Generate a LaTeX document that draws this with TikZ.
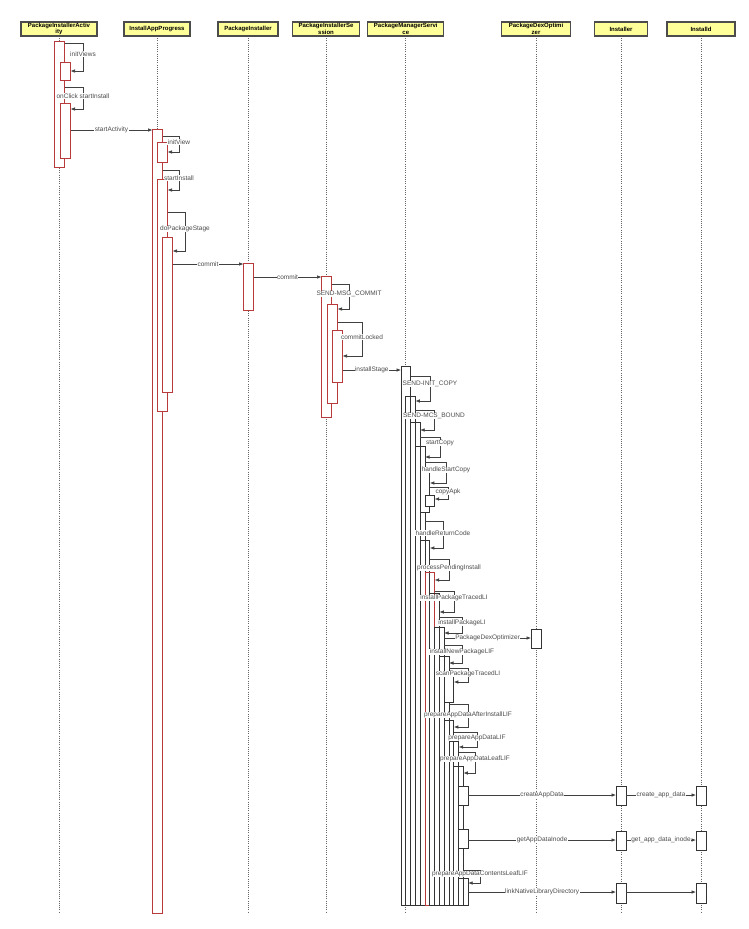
\documentclass[tikz,border=0pt]{standalone}
\usepackage{fontspec}
\setmainfont{Liberation Sans}
\usetikzlibrary{arrows.meta}
\definecolor{headfill}{HTML}{FFFF99}
\definecolor{actred}{HTML}{B83A3A}
\begin{document}
\begin{tikzpicture}[x=1pt,y=-1pt,
  head/.style = {rectangle,draw=black!70,line width=1.1pt,fill=headfill,minimum height=14pt,inner sep=0pt,align=center,font=\bfseries\fontsize{6}{6.3}\selectfont},
  life/.style = {draw=black!60,line width=0.7pt,dash pattern=on 0.8pt off 1.4pt},
  bar/.style  = {rectangle,line width=1pt,fill=white,minimum width=10pt,inner sep=0pt,outer sep=0pt,anchor=north west},
  pbar/.style = {rectangle,line width=0.7pt,minimum width=9.6pt,inner sep=0pt,outer sep=0pt,anchor=north west},
  msg/.style  = {draw=black!75,line width=0.7pt,-{Latex[length=4.5pt,width=3.6pt]}},
  lbl/.style  = {fill=white,inner sep=0.4pt,text=black!70,font=\fontsize{6.5}{7.5}\selectfont}]
\fill[white] (0,0) rectangle (749,929);
\useasboundingbox (0,0) rectangle (749,929);
% lifelines
\foreach \nm/\xx/\ww/\txt in {pia/59/76/PackageInstallerActiv\\ity, iap/157/66/InstallAppProgress,
    pi/248/60/PackageInstaller, pis/326/67/PackageInstallerSe\\ssion, pms/405.8/76/PackageManagerServi\\ce,
    pdo/536/69/PackageDexOptimi\\zer, inst/621/53/Installer, ind/701/68/Installd}
{
  \draw[life] (\xx,36) -- (\xx,913);
  \node[head,minimum width=\ww pt] (h\nm) at (\xx,29) {\txt};
}
% activations
\foreach \nm/\xx/\ytop/\ybot in {pia1/54.5/41/167, pia2/60.5/62/80, pia3/60.5/103/158,
    iap1/152.5/129/913, iap2/157.5/142/162, iap3/157.5/179/411, iap4/162.5/237/392,
    pi1/243.5/263/310, pis1/321.5/276/417, pis2/327.5/304/403, pis3/332.5/330/382}
  \node[bar,draw=actred,minimum height={(\ybot-\ytop)*1pt}] (\nm) at (\xx,\ytop) {};
\foreach \nm/\xx/\ytop/\ybot in {pdo1/531/629/648, inst1/616/786/805, inst2/616/831/850, inst3/616/883/903,
    ind1/696/786/805, ind2/696/831/850, ind3/696/883/903}
  \node[bar,draw=black!80,line width=0.8pt,minimum height={(\ybot-\ytop)*1pt}] (\nm) at (\xx,\ytop) {};
\node[pbar,draw=black!80,fill=white,minimum height=539pt] (pms1) at (401,366) {};
\foreach \nm/\xx/\ytop/\ybot/\col/\fil in {pms2/405.8/396/905/black!80/none, pms3/410.6/422/905/black!80/none,
    pms4/415.4/446/905/black!80/none, pms5/420.2/468/512/black!80/white, pms6/425/495/506/black!80/white,
    pms7/420.2/540/905/black!80/none, pms8/425/572/905/actred/none, pms9/429.8/593/905/black!80/none,
    pms10/434.6/627/905/black!80/none, pms11/439.4/656/905/black!80/none, pms12/444.2/676/702/black!80/white,
    pms13/444.2/720/905/black!80/none, pms14/449/741/905/black!80/none, pms15/453.8/766/905/black!80/none,
    pms16/458.6/786/805/black!80/white, pms17/458.6/829/848/black!80/white, pms18/458.6/878/905/black!80/none}
  \node[pbar,draw=\col,fill=\fil,minimum height={(\ybot-\ytop)*1pt}] (\nm) at (\xx,\ytop) {};
% calls between lifelines
\foreach \src/\dst/\yy/\txt [count=\i] in {pia3/iap1/130/startActivity, iap4/pi1/264/commit, pi1/pis1/277/commit,
    pis3/pms1/370/installStage, pms10/pdo1/638/PackageDexOptimizer,
    pms16/inst1/795/createAppData, inst1/ind1/795/create\_app\_data,
    pms17/inst2/840/getAppDataInode, inst2/ind2/840/get\_app\_data\_inode,
    pms18/inst3/892/linkNativeLibraryDirectory}
  \draw[msg] (\src.east |- 0,\yy) -- node[lbl] (m\i) {\txt} (\dst.west |- 0,\yy);
\draw[msg] (inst3.east |- 0,892) -- (ind3.west |- 0,892);
% self calls
\foreach \src/\ya/\xl/\yb/\dst/\yl/\txt [count=\i] in {pia1/43/83/71/pia2/54/initViews,
    pia1/87/83/109/pia3/96/onClick startInstall, iap1/136/179/152/iap2/142/initView,
    iap1/170/179/190/iap3/178/startInstall, iap3/212/185/251/iap4/229/doPackageStage,
    pis1/284/349/309/pis2/294/SEND-MSG\_COMMIT, pis2/322/362/356/pis3/337/commitLocked,
    pms1/376/430/401/pms2/384/SEND-INIT\_COPY, pms2/410/434/430/pms3/416/SEND-MCS\_BOUND,
    pms3/437/440/457/pms4/443/startCopy, pms4/462/446/483/pms5/470/handleStartCopy,
    pms5/487/448/499/pms6/492/copyApk, pms4/521/443/548/pms7/533/handleReturnCode,
    pms7/559/449/580/pms8/568/processPendingInstall, pms8/591/454/612/pms9/598/installPackageTracedLI,
    pms9/617/462/633/pms10/623/installPackageLI, pms10/645/462/663/pms11/652/installNewPackageLIF,
    pms11/668/468/682/pms12/674/scanPackageTracedLI, pms11/704/468/727/pms13/715/prepareAppDataAfterInstallLIF,
    pms13/732/477/747/pms14/738/prepareAppDataLIF, pms14/752/475/773/pms15/759/prepareAppDataLeafLIF,
    pms15/870/480/883/pms18/874/prepareAppDataContentsLeafLIF}
{
  \draw[msg] (\src.east |- 0,\ya) -| (\xl,\yb) -- (\dst.east |- 0,\yb);
  \node[lbl] (l\i) at (\xl,\yl) {\txt};
}
\end{tikzpicture}
\end{document}
